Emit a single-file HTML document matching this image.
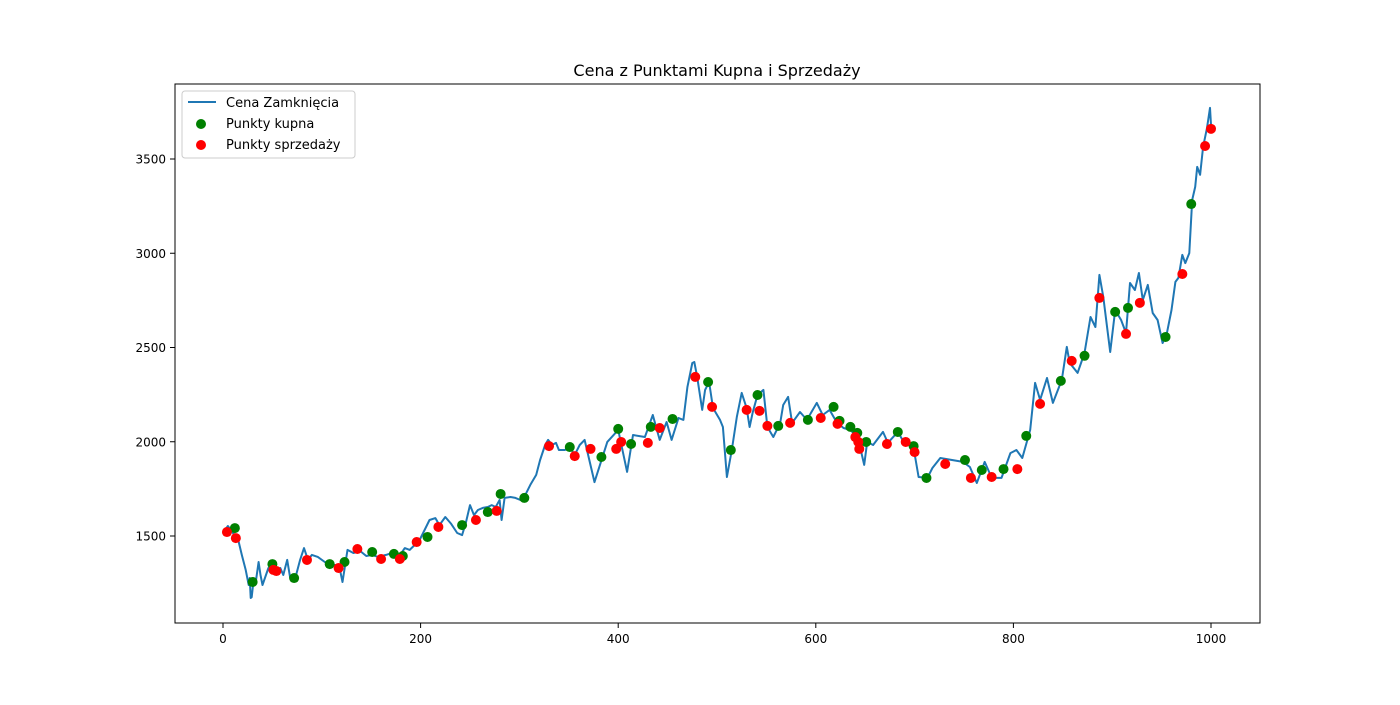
<!DOCTYPE html>
<html><head><meta charset="utf-8"><style>
body{margin:0;background:#fff;}
svg{font-family:"DejaVu Sans","Liberation Sans",sans-serif;}
</style></head><body>
<svg id="chart" width="1400" height="700" viewBox="0 0 1400 700" xmlns="http://www.w3.org/2000/svg">
<rect width="1400" height="700" fill="#fff"/>
<text x="717" y="76" font-size="16" text-anchor="middle">Cena z Punktami Kupna i Sprzedaży</text>
<g id="plot"></g>
<rect x="175" y="84" width="1085" height="539" fill="none" stroke="#000" stroke-width="1"/>
<g id="axes"></g>
<g>
<rect x="182" y="91" width="173" height="67" rx="3" fill="#fff" fill-opacity="0.8" stroke="#ccc"/>
<line x1="188" y1="102" x2="216" y2="102" stroke="#1f77b4" stroke-width="2"/>
<text x="226" y="107" font-size="13">Cena Zamknięcia</text>
<circle cx="201" cy="124" r="5" fill="green"/>
<text x="226" y="128" font-size="13">Punkty kupna</text>
<circle cx="201" cy="145" r="5" fill="red"/>
<text x="226" y="149" font-size="13">Punkty sprzedaży</text>
</g>
</svg>
<script>
const priceIdx=[0,2,5,10,15,19,23,26,27,28,29,31,33,36,38,40,46,50,54,58,61,65,68,74,78,82,86,90,96,103,108,114,118,121,126,132,139,145,151,157,165,171,177,184,189,194,199,204,209,215,219,225,231,237,242,246,250,254,258,263,268,272,276,280,282,285,291,296,301,306,311,317,321,326,329,333,337,340,346,351,356,361,366,376,389,400,409,415,427,435,442,449,454,461,466,470,475,477,480,485,488,492,496,503,506,510,515,520,525,530,533,536,541,547,551,557,564,567,572,576,584,591,601,607,614,621,628,635,642,645,649,652,658,668,673,683,689,699,704,713,718,726,749,756,763,771,778,788,797,803,809,817,822,827,834,840,849,854,857,865,872,878,883,887,891,898,903,909,914,918,923,927,931,936,941,946,951,955,960,964,967,971,974,978,981,984,986,989,992,996,999,1000];
const priceVal=[1520,1532,1553,1516,1489,1400,1320,1240,1277,1171,1176,1267,1250,1362,1293,1240,1330,1346,1320,1330,1293,1373,1277,1293,1373,1436,1373,1400,1389,1362,1346,1346,1330,1256,1426,1410,1420,1394,1400,1389,1400,1410,1383,1436,1426,1452,1479,1532,1585,1595,1558,1601,1564,1516,1505,1574,1664,1611,1638,1649,1654,1664,1654,1691,1585,1702,1707,1702,1691,1718,1771,1824,1903,1983,2010,1983,1994,1956,1956,1972,1930,1983,2010,1786,1999,2063,1840,2036,2025,2142,2010,2105,2010,2126,2116,2290,2418,2423,2343,2169,2275,2317,2179,2116,2078,1813,1956,2131,2259,2179,2078,2153,2248,2275,2078,2025,2100,2195,2238,2100,2158,2116,2206,2142,2169,2105,2073,2063,2025,1967,1877,1999,1983,2052,1994,2052,1999,1967,1813,1808,1861,1914,1893,1866,1781,1893,1808,1808,1940,1956,1914,2063,2312,2222,2338,2206,2328,2503,2418,2365,2471,2662,2609,2885,2768,2476,2699,2646,2577,2842,2805,2895,2752,2832,2683,2646,2524,2566,2699,2848,2869,2991,2948,3001,3283,3352,3458,3416,3564,3665,3771,3681];
const buyIdx=[12,30,50,72,108,123,151,173,182,207,242,268,281,305,351,383,400,413,433,455,491,514,541,562,592,618,624,635,642,651,683,699,712,751,768,790,813,848,872,903,916,954,980];
const buyVal=[1542,1256,1351,1277,1351,1362,1415,1405,1394,1495,1558,1627,1723,1702,1972,1919,2068,1988,2079,2121,2317,1956,2248,2084,2116,2185,2111,2079,2047,1999,2052,1977,1808,1903,1850,1855,2031,2323,2456,2689,2710,2556,3261];
const sellIdx=[4,13,51,54,85,117,136,160,179,196,218,256,277,330,356,372,398,403,430,442,478,495,530,543,551,574,605,622,640,643,644,672,691,700,731,757,778,804,827,859,887,914,928,971,994,1000];
const sellVal=[1521,1489,1320,1314,1373,1330,1431,1378,1378,1468,1548,1585,1633,1977,1924,1962,1962,1999,1994,2073,2344,2185,2169,2164,2084,2100,2126,2095,2025,1999,1962,1988,1999,1945,1882,1808,1813,1855,2201,2429,2763,2572,2737,2890,3569,3660];
const xTicks=[0,200,400,600,800,1000];
const yTicks=[1500,2000,2500,3000,3500];

const X=v=>223+v*0.988;
const Y=v=>536-(v-1500)*0.1885;
const NS="http://www.w3.org/2000/svg";
const plot=document.getElementById('plot'), axes=document.getElementById('axes');
function mk(tag,attrs,parent){const e=document.createElementNS(NS,tag);for(const k in attrs)e.setAttribute(k,attrs[k]);parent.appendChild(e);return e;}
let d=priceIdx.map((v,i)=>(i?'L':'M')+X(v).toFixed(1)+','+Y(priceVal[i]).toFixed(1)).join('');
const line=mk('path',{d:d,fill:'none',stroke:'#1f77b4','stroke-width':2,'stroke-linejoin':'round'},plot);


buyIdx.forEach((v,i)=>{const c=mk('circle',{cx:X(v),cy:Y(buyVal[i]),r:5,fill:'green'},plot);

});
sellIdx.forEach((v,i)=>{const c=mk('circle',{cx:X(v),cy:Y(sellVal[i]),r:5,fill:'red'},plot);

});
xTicks.forEach(t=>{const x=X(t);mk('line',{x1:x,y1:623,x2:x,y2:628,stroke:'#000'},axes);
const tx=mk('text',{x:x,y:643,'font-size':12,'text-anchor':'middle'},axes);tx.textContent=t;

});
yTicks.forEach(t=>{const y=Y(t);mk('line',{x1:170,y1:y,x2:175,y2:y,stroke:'#000'},axes);
const tx=mk('text',{x:166,y:y+4.5,'font-size':12,'text-anchor':'end'},axes);tx.textContent=t;

});
</script>
</body></html>
